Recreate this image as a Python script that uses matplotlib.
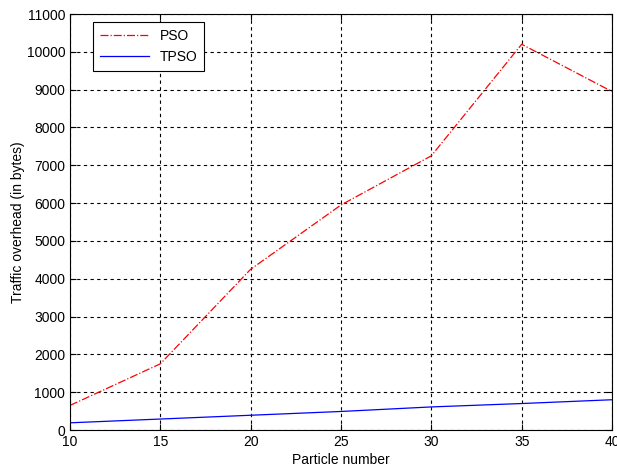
import matplotlib
matplotlib.use("Agg")
import matplotlib.pyplot as plt

plt.rcParams['font.family'] = ['Liberation Sans', 'DejaVu Sans']

# data
particles = [10, 15, 20, 25, 30, 35, 40]
pso = [650, 1750, 4250, 5950, 7250, 10200, 8950]
tpso = [190, 290, 390, 490, 610, 700, 800]

fig = plt.figure(figsize=(6.17, 4.72), dpi=100)
ax = fig.add_axes([70 / 617, 42 / 472, 542 / 617, 416 / 472])

ax.plot(particles, pso, color="red", linestyle="-.", linewidth=0.9, label="PSO")
ax.plot(particles, tpso, color="blue", linestyle="-", linewidth=0.9, label="TPSO")

ax.set_xlim(10, 40)
ax.set_ylim(0, 11000)
ax.set_xticks(range(10, 41, 5))
ax.set_yticks(range(0, 11001, 1000))
ax.grid(True, color="black", linestyle=(0, (3, 3)), linewidth=0.8)
ax.tick_params(direction="in", labelsize=10, top=True, right=True, length=4)
for s in ax.spines.values():
    s.set_linewidth(0.8)

ax.set_xlabel("Particle number", fontsize=10, labelpad=3)
ax.set_ylabel("Traffic overhead (in bytes)", fontsize=10, labelpad=1)

leg = ax.legend(loc="upper left", bbox_to_anchor=(23 / 542, 1 - 8 / 416),
                borderaxespad=0, fontsize=10, fancybox=False, framealpha=1,
                edgecolor="black", handlelength=3.5, borderpad=0.5)
leg.get_frame().set_linewidth(0.8)

fig.savefig("out.png", dpi=100)
